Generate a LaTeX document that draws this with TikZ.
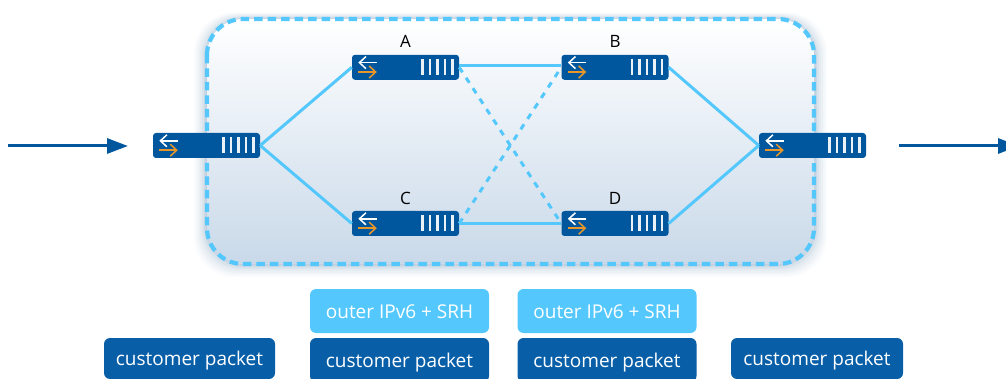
\documentclass[tikz,border=0pt]{standalone}
\usepackage{fontspec}
\setmainfont{Open Sans}
\usetikzlibrary{arrows.meta,calc}
\definecolor{navy}{HTML}{00579E}
\definecolor{pktnavy}{HTML}{085FA8}
\definecolor{sky}{HTML}{54C8FD}
\definecolor{amber}{HTML}{E8962A}
\definecolor{glow}{HTML}{5F86AD}
\definecolor{bgbottom}{HTML}{C9D9E9}
\newcommand{\lowered}[2]{\raisebox{-#1}[\height][\depth]{#2}}
\tikzset{
  x=1pt,y=-1pt,
  router/.style={fill=navy,rounded corners=3pt,minimum width=107pt,minimum height=25pt,inner sep=0pt,draw=none},
  link/.style={draw=sky,line width=3pt},
  dashlink/.style={draw=sky,line width=3pt,dash pattern=on 6pt off 6.5pt},
  flow/.style={draw=navy,line width=3pt,-{Triangle[length=21pt,width=15pt]}},
  pkt/.style={fill=pktnavy,rounded corners=6pt,text=white,font=\fontsize{19}{22}\selectfont,inner sep=0pt,anchor=center},
  hdr/.style={fill=sky,rounded corners=6pt,text=white,font=\fontsize{19}{22}\selectfont,inner sep=0pt,anchor=center},
  tag/.style={text=black,font=\fontsize{17}{20}\selectfont,inner sep=0pt},
  barw/.style={draw=white!92!navy,line width=2.5pt},
  ico/.style={line width=1.5pt,-{Straight Barb[length=6.5pt,width=12pt,line width=1.5pt]}}
}
\newcommand{\routerat}[3]{%
  \node[router] (#1) at (#2,#3) {};
  \begin{scope}[shift={(#1.west)}]
    \draw[ico,draw=white] (25,-4.7) -- (6.5,-4.7);
    \draw[ico,draw=amber] (6.5,4.7) -- (25,4.7);
    \foreach \bx in {70.7,78.2,85.7,93.2,100.7}
      \draw[barw] (\bx,-8) -- (\bx,8);
  \end{scope}
}
\begin{document}
\begin{tikzpicture}
\path[use as bounding box] (0,0) rectangle (1006,379);
\clip (0,0) rectangle (1006,379);
% soft shadow
\foreach \s/\o in {13/.03,11/.04,9/.05,7/.06,5/.08,3/.1,1.5/.12}
  \fill[glow,opacity=\o,rounded corners=40pt] (207-\s,19-\s*.5) rectangle (814+\s,264+\s);
% backdrop
\path[top color=white,bottom color=bgbottom,rounded corners=36pt] (207,19) rectangle (814,264);
\draw[sky,line width=4.2pt,dash pattern=on 8.5pt off 5pt,rounded corners=36pt] (207,19) rectangle (814,264);
% routers
\routerat{L}{206.5}{145.5}
\routerat{A}{405.5}{67.3}
\routerat{B}{615}{67.3}
\routerat{C}{405.5}{223.5}
\routerat{D}{615}{223.5}
\routerat{R}{812.5}{145.5}
% links
\draw[link] (L.east) -- (A.west);
\draw[link] (L.east) -- (C.west);
\draw[link] ($(A.east)+(0,-1.3)$) -- ($(B.west)+(0,-1.3)$);
\draw[link] (C.east) -- (D.west);
\draw[link] (B.east) -- (R.west);
\draw[link] (D.east) -- (R.west);
\draw[dashlink] (A.east) -- (D.west);
\draw[dashlink] (C.east) -- (B.west);
% labels
\node[tag] (ta) at (405.5,41) {A};
\node[tag] (tb) at (615,41) {B};
\node[tag] (tc) at (405.5,198) {C};
\node[tag] (td) at (615,198) {D};
% flow arrows
\coordinate (inS) at (8,146);
\coordinate (inE) at (128,146);
\coordinate (outS) at (899,146);
\coordinate (outE) at (1019,146);
\draw[flow] (inS) -- (inE);
\draw[flow] (outS) -- (outE);
% packets
\node[pkt,minimum width=171pt,minimum height=41pt] (p1) at (189.5,358.5) {\lowered{2pt}{customer packet}};
\node[hdr,minimum width=179pt,minimum height=44pt] (h2) at (399.5,311) {\lowered{1pt}{outer IPv6 + SRH}};
\node[pkt,minimum width=179pt,minimum height=44pt] (p2) at (399.5,360) {\lowered{3pt}{customer packet}};
\node[hdr,minimum width=179pt,minimum height=44pt] (h3) at (607,311) {\lowered{1pt}{outer IPv6 + SRH}};
\node[pkt,minimum width=179pt,minimum height=44pt] (p3) at (607,360) {\lowered{3pt}{customer packet}};
\node[pkt,minimum width=172pt,minimum height=41pt] (p4) at (817,358.5) {\lowered{2pt}{customer packet}};
\end{tikzpicture}
\end{document}
